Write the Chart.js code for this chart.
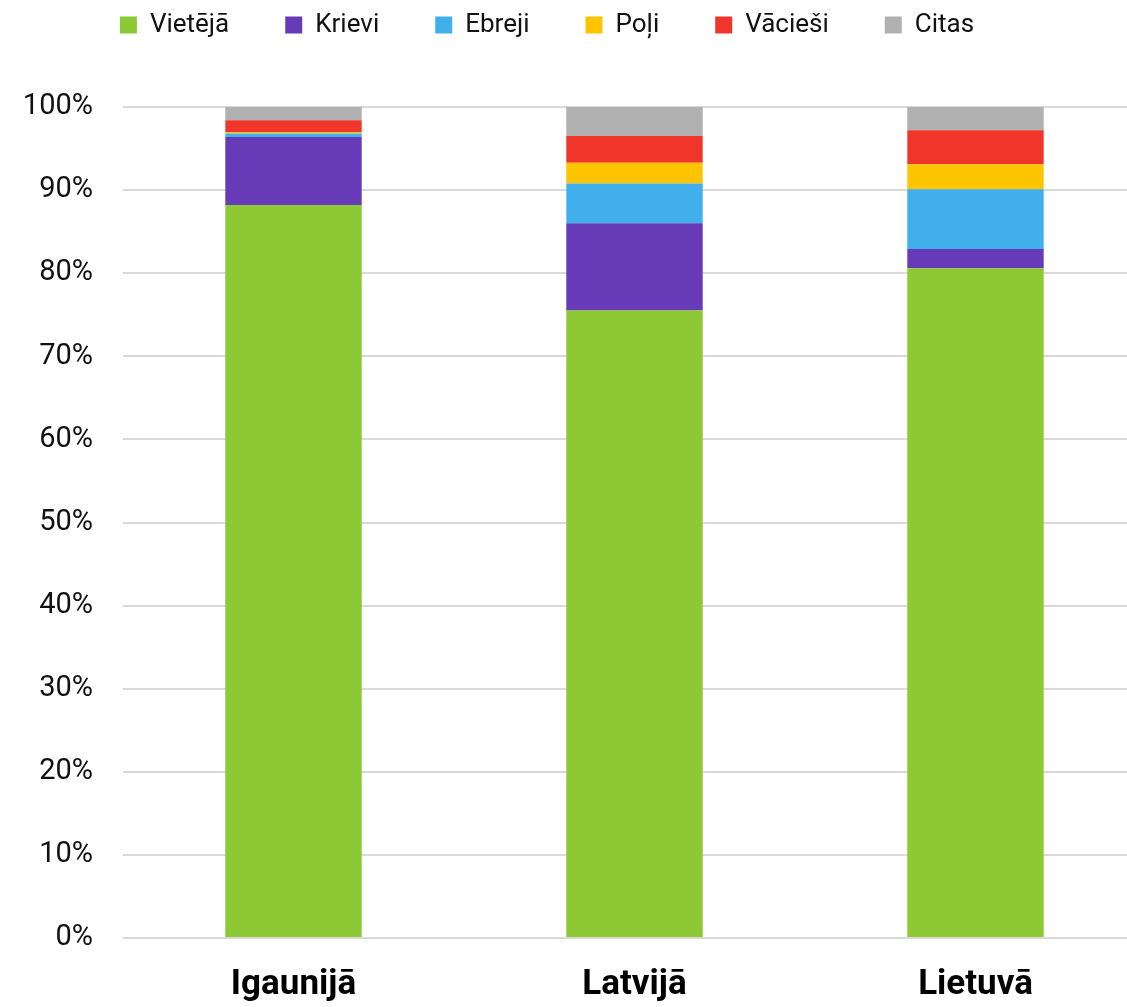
<!DOCTYPE html>
<html>
<head>
<meta charset="utf-8">
<script src="https://cdn.jsdelivr.net/npm/chart.js@4/dist/chart.umd.min.js"></script>
<style>
    html, body { margin: 0; padding: 0; background: #fff; overflow: hidden; }
    .wrap { width: 1146px; height: 1007px; position: relative; }
</style>
</head>
<body>
<div class="wrap"><canvas id="nationChart"></canvas></div>
<script>
// Dati
const categories = ['Igaunijā', 'Latvijā', 'Lietuvā'];
const vieteja = [88.2, 75.5, 80.6];
const krievi = [8.2, 10.5, 2.3];
const ebreji = [0.4, 4.8, 7.2];
const poli = [0.2, 2.5, 3.0];
const vaciesi = [1.4, 3.2, 4.1];
const citas = [1.6, 3.5, 2.8];
const yTicks = [0, 10, 20, 30, 40, 50, 60, 70, 80, 90, 100];

const fontFamily = 'Roboto, "Noto Sans", sans-serif';

function makeSet(label, data, color) {
    return {
        label: label,
        data: data,
        backgroundColor: color,
        borderWidth: 0,
        barPercentage: 0.4,
        categoryPercentage: 1.0
    };
}

// Leģendu pabīda uz augšu un pa kreisi
const legendShift = {
    id: 'legendShift',
    afterLayout(chart) {
        const l = chart.legend;
        l.top -= 59; l.bottom -= 59;
        l.left -= 26; l.right -= 26;
    }
};

const ctx = document.getElementById('nationChart').getContext('2d');

new Chart(ctx, {
    type: 'bar',
    data: {
        labels: categories,
        datasets: [
            makeSet('Vietējā', vieteja, '#8cc935'),
            makeSet('Krievi', krievi, '#673ab7'),
            makeSet('Ebreji', ebreji, '#41afec'),
            makeSet('Poļi', poli, '#ffc400'),
            makeSet('Vācieši', vaciesi, '#f0352a'),
            makeSet('Citas', citas, '#b0b0b0')
        ]
    },
    options: {
        responsive: true,
        maintainAspectRatio: false,
        animation: false,
        layout: { padding: { top: 15, right: 0, left: 0, bottom: 0 } },
        plugins: {
            legend: {
                position: 'top',
                labels: {
                    boxWidth: 17,
                    boxHeight: 17,
                    padding: 56,
                    color: '#111',
                    font: { family: fontFamily, size: 26 }
                }
            },
            tooltip: { enabled: false }
        },
        scales: {
            x: {
                stacked: true,
                afterFit(scale) { scale.height = 69; },
                grid: { display: false, drawTicks: false },
                border: { display: false },
                ticks: {
                    color: '#000',
                    padding: 26,
                    font: { family: fontFamily, size: 35, weight: 'bold' }
                }
            },
            y: {
                stacked: true,
                min: 0,
                max: 100,
                afterFit(scale) { scale.width = 123; },
                afterBuildTicks(scale) { scale.ticks = yTicks.map(v => ({ value: v })); },
                grid: { color: '#d9d9d9', lineWidth: 2, drawTicks: false },
                border: { display: false },
                ticks: {
                    color: '#111',
                    padding: 30,
                    font: { family: fontFamily, size: 29 },
                    callback: function(value) { return value + '%'; }
                }
            }
        }
    },
    plugins: [legendShift]
});
</script>
</body>
</html>
